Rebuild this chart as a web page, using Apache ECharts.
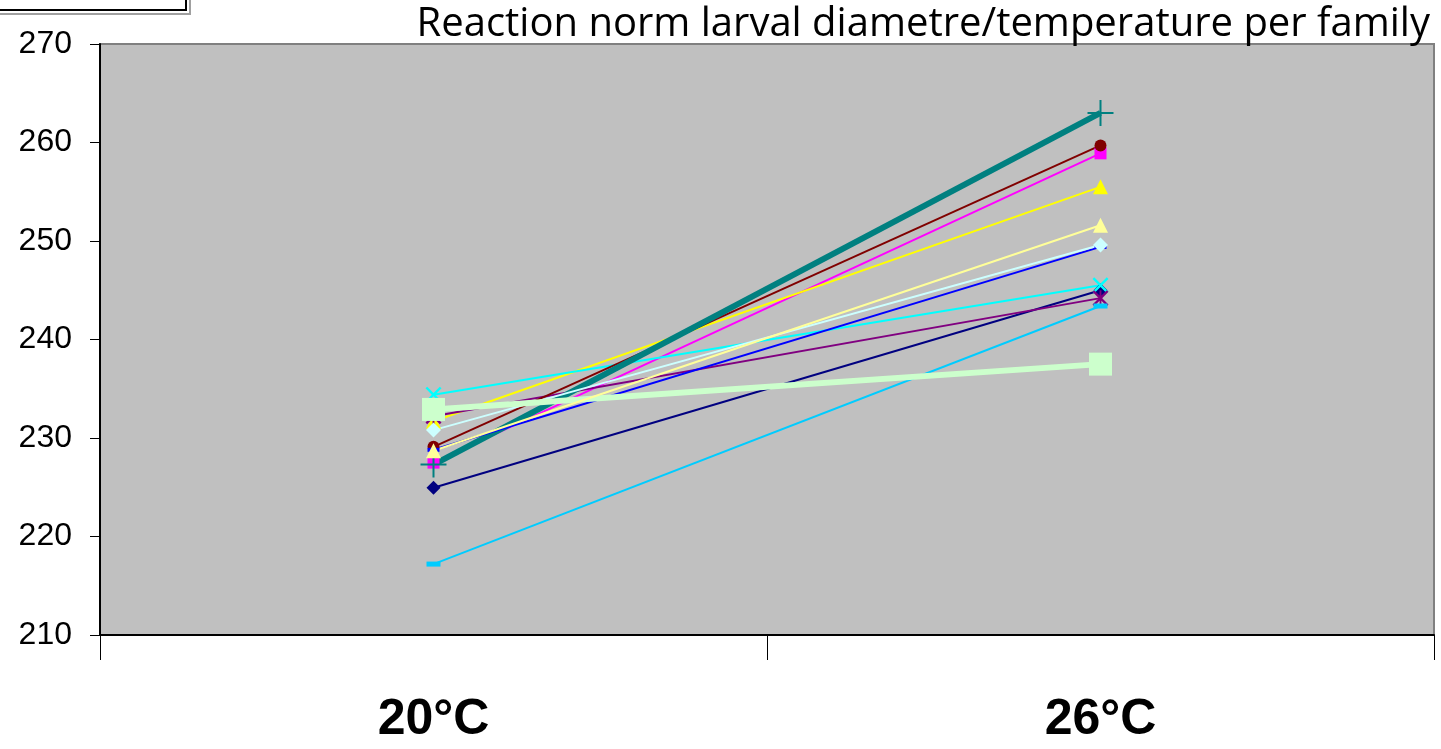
<!DOCTYPE html>
<html>
<head>
<meta charset="utf-8">
<script src="https://cdn.jsdelivr.net/npm/echarts@6/dist/echarts.min.js"></script>
<style>html,body{margin:0;padding:0;background:#fff;}#c{width:1441px;height:749px;}</style>
</head>
<body>
<div id="c"></div>
<script>
const categories = ['20°C', '26°C'];
const yTicks = [210, 220, 230, 240, 250, 260, 270];
const titleText = 'Reaction norm larval diametre/temperature per family';

const fam1 = [224.95, 245.0];   // navy diamond
const fam2 = [227.5, 258.9];    // magenta square
const fam3 = [231.7, 255.5];    // yellow triangle
const fam4 = [234.4, 245.5];    // cyan x
const fam5 = [232.2, 244.2];    // purple star
const fam6 = [229.1, 259.7];    // maroon circle
const fam7 = [227.3, 263.0];    // teal plus (thick)
const fam8 = [228.8, 249.4];    // blue dash
const fam9 = [217.2, 243.4];    // sky blue dash
const fam10 = [230.8, 249.6];   // light cyan diamond
const fam11 = [232.9, 237.5];   // light green square (thick)
const fam12 = [228.7, 251.6];   // light yellow triangle

const PLUS = 'path://M12,0h2v12h12v2h-12v12h-2v-12h-12v-2h12z';
const XS = 'path://M0,1.5L1.5,0L7,5.5L12.5,0L14,1.5L8.5,7L14,12.5L12.5,14L7,8.5L1.5,14L0,12.5L5.5,7Z';
const STAR = 'path://M0,1.5L1.5,0L7,5.5L12.5,0L14,1.5L8.5,7L14,12.5L12.5,14L7,8.5L1.5,14L0,12.5L5.5,7Z M6.2,0h1.6v14h-1.6z';

function s(name, data, color, symbol, size, width) {
  return {
    name: name, type: 'line', data: data,
    symbol: symbol, symbolSize: size, showSymbol: true,
    lineStyle: {color: color, width: width},
    itemStyle: {color: color, borderWidth: 0, opacity: 1},
    emphasis: {disabled: true},
    animation: false
  };
}

const chart = echarts.init(document.getElementById('c'));
chart.setOption({
  backgroundColor: '#ffffff',
  animation: false,
  title: {
    text: titleText, right: 6, top: 0,
    textStyle: {fontFamily: '"Comic Sans MS","Open Sans",sans-serif', fontSize: 40, fontWeight: 'normal', color: '#000'}
  },
  graphic: [
    {type: 'rect', shape: {x: -10, y: -10, width: 200, height: 24}, style: {fill: '#fff', stroke: '#a0a0a0', lineWidth: 2}, z: 10},
    {type: 'rect', shape: {x: -10, y: -10, width: 196, height: 20}, style: {fill: '#fff', stroke: '#000', lineWidth: 2}, z: 11}
  ],
  grid: {left: 100, right: 7, top: 44, bottom: 114, show: true, backgroundColor: '#C0C0C0', borderColor: '#808080', borderWidth: 2},
  xAxis: {
    type: 'category', data: categories, boundaryGap: true,
    axisLine: {show: true, lineStyle: {color: '#000', width: 2}},
    axisTick: {show: true, length: 25, alignWithLabel: false, lineStyle: {color: '#000', width: 1}},
    axisLabel: {margin: 60, color: '#000', fontFamily: 'Liberation Sans, Arial', fontWeight: 'bold', fontSize: 50},
    splitLine: {show: false}
  },
  yAxis: {
    type: 'value', min: 210, max: 270, interval: 10,
    axisLine: {show: true, lineStyle: {color: '#000', width: 2}},
    axisTick: {show: true, length: 10, lineStyle: {color: '#000', width: 1}},
    axisLabel: {margin: 28, color: '#000', fontFamily: 'Liberation Sans, Arial', fontSize: 32,
      formatter: function (v) { return yTicks.indexOf(v) >= 0 ? String(v) : ''; }},
    splitLine: {show: false}
  },
  series: [
    s('F1', fam1, '#000080', 'diamond', 14, 2),
    s('F2', fam2, '#FF00FF', 'rect', 12, 2),
    s('F3', fam3, '#FFFF00', 'triangle', 15, 2),
    s('F4', fam4, '#00FFFF', XS, 16, 2),
    s('F5', fam5, '#800080', STAR, 16, 2),
    s('F6', fam6, '#800000', 'circle', 12, 2),
    s('F7', fam7, '#008080', PLUS, 26, 6),
    s('F8', fam8, '#0000FF', 'rect', [12, 4], 2),
    s('F9', fam9, '#00CCFF', 'rect', [14, 5], 2),
    s('F10', fam10, '#CCFFFF', 'diamond', 15, 2),
    s('F11', fam11, '#CCFFCC', 'rect', 23, 6),
    s('F12', fam12, '#FFFF99', 'triangle', 15, 2)
  ]
});
</script>
</body>
</html>
